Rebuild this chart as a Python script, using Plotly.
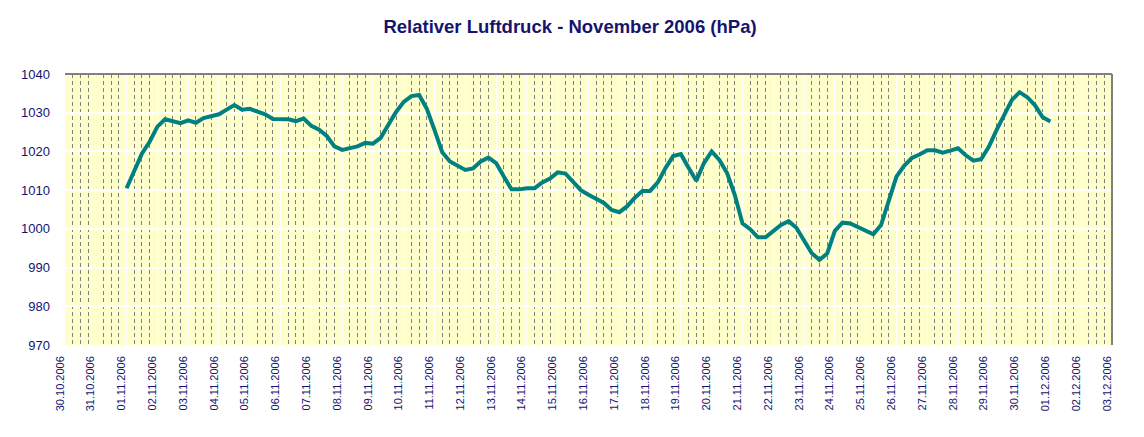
import pandas as pd
import plotly.graph_objects as go

# Relative air pressure, readings every 6 hours from 01.11.2006 00:00 to 01.12.2006 00:00
start_time = "2006-11-01 00:00"
step = "6h"
pressure_hpa = [
    1010.5, 1014.8, 1019.5, 1022.5,   # 01.11
    1026.4, 1028.3, 1027.8, 1027.3,   # 02.11
    1028.0, 1027.4, 1028.6, 1029.0,   # 03.11
    1029.6, 1030.8, 1032.0, 1030.8,   # 04.11
    1031.0, 1030.3, 1029.6, 1028.4,   # 05.11
    1028.3, 1028.3, 1027.8, 1028.5,   # 06.11
    1026.6, 1025.6, 1024.0, 1021.3,   # 07.11
    1020.4, 1020.9, 1021.3, 1022.2,   # 08.11
    1022.0, 1023.5, 1027.0, 1030.2,   # 09.11
    1032.8, 1034.3, 1034.6, 1031.0,   # 10.11
    1025.5, 1019.8, 1017.4, 1016.2,   # 11.11
    1015.2, 1015.6, 1017.4, 1018.4,   # 12.11
    1017.0, 1013.5, 1010.2, 1010.2,   # 13.11
    1010.5, 1010.5, 1012.0, 1013.0,   # 14.11
    1014.6, 1014.3, 1012.0, 1010.0,   # 15.11
    1008.8, 1007.8, 1006.7, 1004.9,   # 16.11
    1004.3, 1005.8, 1008.0, 1009.8,   # 17.11
    1009.8, 1012.0, 1015.7, 1018.8,   # 18.11
    1019.3, 1015.8, 1012.4, 1017.0,   # 19.11
    1020.0, 1017.8, 1014.4, 1008.8,   # 20.11
    1001.4, 999.9, 997.8, 997.8,      # 21.11
    999.3, 1001.0, 1002.0, 1000.3,    # 22.11
    997.0, 993.7, 992.0, 993.6,       # 23.11
    999.5, 1001.6, 1001.4, 1000.4,    # 24.11
    999.5, 998.6, 1001.0, 1007.2,     # 25.11
    1013.5, 1016.3, 1018.3, 1019.2,   # 26.11
    1020.3, 1020.3, 1019.7, 1020.2,   # 27.11
    1020.8, 1019.0, 1017.6, 1018.0,   # 28.11
    1021.2, 1025.5, 1029.6, 1033.3,   # 29.11
    1035.3, 1034.0, 1031.9, 1028.8,   # 30.11
    1027.7,                           # 01.12
]
times = pd.date_range(start=start_time, periods=len(pressure_hpa), freq=step)

x_range = ["2006-10-30 00:00", "2006-12-03 00:00"]
y_range = [970, 1040]
y_ticks = [970, 980, 990, 1000, 1010, 1020, 1030, 1040]
title_text = "Relativer Luftdruck - November 2006 (hPa)"

text_color = "#14146e"
font_family = "Liberation Sans, Arial, sans-serif"

fig = go.Figure()
fig.add_trace(go.Scatter(
    x=times, y=pressure_hpa, mode="lines",
    line=dict(color="#008080", width=4),
    hoverinfo="x+y", showlegend=False,
))

fig.update_layout(
    width=1144, height=437,
    margin=dict(l=57, r=40, t=66, b=100, autoexpand=False),
    paper_bgcolor="white",
    plot_bgcolor="#FFFFCC",
    title=dict(
        text="<b>" + title_text + "</b>",
        x=562 / 1144, xanchor="center", y=1 - 19 / 437, yanchor="middle",
        font=dict(family=font_family, size=18.5, color=text_color),
    ),
    xaxis=dict(
        type="date",
        range=x_range,
        dtick=86400000,
        tick0="2006-10-30",
        tickformat="%d.%m.%Y",
        tickangle=-90,
        tickfont=dict(family=font_family, size=11, color=text_color),
        ticklabelstandoff=8,
        ticklabelshift=-5,
        showgrid=True, gridcolor="white", gridwidth=1,
        minor=dict(dtick=21600000, showgrid=True, gridcolor="#808080",
                   griddash="4px,3px", gridwidth=1),
        showline=False, zeroline=False, ticks="",
    ),
    yaxis=dict(
        range=y_range,
        tickvals=y_ticks,
        tickfont=dict(family=font_family, size=13, color=text_color),
        ticklabelstandoff=14,
        showgrid=True, gridcolor="white", gridwidth=2,
        showline=False, zeroline=False, ticks="",
    ),
    shapes=[
        dict(type="line", xref="paper", yref="paper", x0=0, x1=1, y0=1, y1=1,
             line=dict(color="#808080", width=2)),
        dict(type="line", xref="paper", yref="paper", x0=1, x1=1, y0=0, y1=1,
             line=dict(color="#808080", width=2)),
    ],
)

fig.write_html("out.html")
